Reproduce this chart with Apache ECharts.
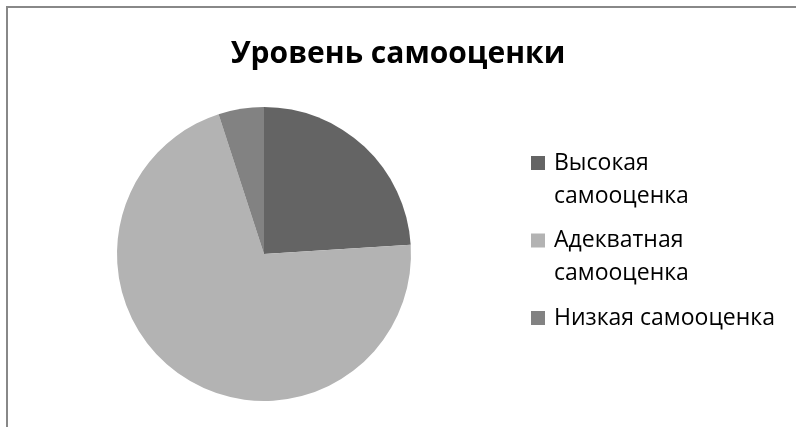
<!DOCTYPE html>
<html><head><meta charset="utf-8">
<script src="https://cdn.jsdelivr.net/npm/echarts@6/dist/echarts.min.js"></script>
<style>html,body{margin:0;padding:0;background:#fff}#c{width:796px;height:427px}</style>
</head><body><div id="c"></div>
<script>
const titleText = 'Уровень самооценки';
const categories = ['Высокая самооценка', 'Адекватная самооценка', 'Низкая самооценка'];
const legendLabels = ['Высокая\nсамооценка', 'Адекватная\nсамооценка', 'Низкая самооценка'];
const values = [24, 71, 5];
const colors = ['#646464', '#b3b3b3', '#828282'];

const font = '"Open Sans", "Liberation Sans", sans-serif';
const chart = echarts.init(document.getElementById('c'));
const legendTops = [146.5, 224, 301.5];
const legends = categories.map((name, i) => {
  const twoLine = legendLabels[i].indexOf('\n') >= 0;
  const h = twoLine ? 47 : 14;
  return {
    data: [name],
    left: 531, top: legendTops[i], padding: 0,
    orient: 'vertical', itemWidth: 18, itemHeight: h, itemGap: 0,
    icon: 'path://M0,0L14,0L14,14L0,14Z M18,' + h + 'L18,' + h + 'L18,' + h + 'Z',
    selectedMode: false,
    formatter: () => legendLabels[i],
    textStyle: { fontFamily: font, fontSize: 23, color: '#000', lineHeight: 33 }
  };
});
chart.setOption({
  animation: false,
  color: colors,
  title: { text: titleText, left: 'center', top: 39, padding: 0,
    textStyle: { fontFamily: font, fontSize: 30, fontWeight: 'bold', color: '#000' } },
  legend: legends,
  graphic: [{ type: 'rect', shape: { x: 7, y: 7, width: 900, height: 500 },
    style: { fill: 'none', stroke: '#888', lineWidth: 2 }, silent: true }],
  series: [{
    type: 'pie', center: [264, 254], radius: 147, startAngle: 90, clockwise: true,
    label: { show: false }, labelLine: { show: false },
    itemStyle: { borderWidth: 0 },
    emphasis: { disabled: true },
    data: categories.map((n, i) => ({ name: n, value: values[i] }))
  }]
});
</script></body></html>
